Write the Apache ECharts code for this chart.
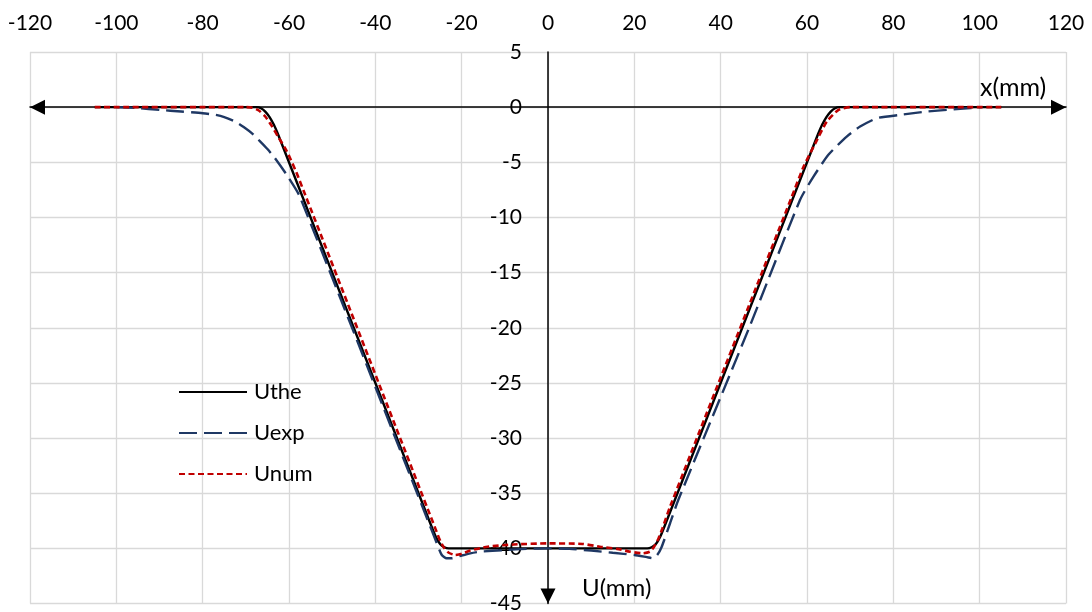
<!DOCTYPE html>
<html><head><meta charset="utf-8">
<script src="https://cdn.jsdelivr.net/npm/echarts@6/dist/echarts.min.js"></script>
<style>html,body{margin:0;padding:0;background:#fff}#c{width:1092px;height:612px}</style>
</head><body><div id="c"></div>
<script>
// ---- data ----
const xMin = -120, xMax = 120, xStep = 20;
const yMin = -45, yMax = 5, yStep = 5;
const seriesNames = ['Uthe', 'Uexp', 'Unum'];
const uthe = [[-105,0],[-67.5,0],[-66.5,-0.1],[-65.5,-0.4],[-64.5,-0.9],[-63.5,-1.6],[-62.5,-2.5],[-61,-4],[-27,-38],[-26,-38.95],[-25,-39.6],[-24,-39.9],[-23,-40],[23,-40],[24,-39.9],[25,-39.6],[26,-38.95],[27,-38],[61,-4],[62.5,-2.5],[63.5,-1.6],[64.5,-0.9],[65.5,-0.4],[66.5,-0.1],[67.5,0],[105,0]];
const uexp = [[-100,0],[-95,-0.08],[-90,-0.25],[-85,-0.4],[-80,-0.55],[-77,-0.7],[-75,-0.9],[-72.5,-1.3],[-70.5,-1.8],[-68.5,-2.4],[-66.7,-3.1],[-65,-3.8],[-63.3,-4.6],[-60.6,-6.1],[-57.5,-8.1],[-27,-38.3],[-25.5,-39.8],[-24.6,-40.6],[-23.5,-40.9],[-22.3,-40.9],[-20,-40.65],[-18,-40.45],[-15.8,-40.3],[-10,-40.15],[-5,-40.05],[0,-40],[5,-40.05],[10,-40.2],[15,-40.4],[20,-40.6],[22.9,-40.8],[24.3,-40.9],[25.3,-40.6],[26.3,-39.9],[28.3,-37.7],[30.2,-35.6],[46.6,-20],[58.4,-8.4],[61.5,-6.3],[65,-4.3],[69.2,-2.67],[72.3,-1.76],[76.2,-1.0],[81.6,-0.7],[87.8,-0.4],[95.5,-0.15],[100.5,0]];
const unum = [[-105,0],[-70,0],[-68.5,-0.05],[-67,-0.3],[-65.5,-0.85],[-64,-1.7],[-62.5,-2.7],[-60.5,-4.0],[-58,-6.2],[-26,-38.3],[-25,-39.3],[-24,-40.0],[-23,-40.4],[-21.5,-40.6],[-20,-40.5],[-18,-40.2],[-14,-39.85],[-8,-39.65],[0,-39.55],[8,-39.6],[12,-39.85],[16,-40.05],[19,-40.3],[22,-40.45],[23.6,-40.3],[24.5,-39.9],[25.6,-39.1],[26.5,-38.2],[28.3,-36.2],[56.5,-8.1],[59.2,-5.4],[61.9,-3.3],[64.6,-1.3],[67.3,-0.25],[70,0],[105,0]];
const xAxisTitle = 'x(mm)';
const yAxisTitle = 'U(mm)';

const FONT = 'Lato';
const chart = echarts.init(document.getElementById('c'), null, {renderer: 'canvas'});
const arrowSize = [15, 15];
const gridLeft = 30, gridRight = 26;
const plotW = 1092 - gridLeft - gridRight;
const zeroOffset = -plotW * (0 - xMin) / (xMax - xMin);
chart.setOption({
  animation: false,
  backgroundColor: '#fff',
  grid: {left: gridLeft, right: gridRight, top: 52, bottom: 8.5, containLabel: false, outerBoundsMode: 'none'},
  legend: {
    orient: 'vertical', left: 178, top: 381, padding: 0, itemWidth: 68, itemHeight: 14, itemGap: 19,
    itemStyle: {opacity: 0},
    textStyle: {fontFamily: FONT, fontSize: 22, color: '#000', padding: [0,0,0,2]},
    data: seriesNames
  },
  xAxis: [{
    type: 'value', position: 'top', min: xMin, max: xMax, interval: xStep,
    axisLine: {show: false, onZero: false}, axisTick: {show: false},
    axisLabel: {fontFamily: FONT, fontSize: 21, color: '#000', margin: 18},
    splitLine: {show: true, lineStyle: {color: '#d9d9d9', width: 1.3}}
  }, {
    type: 'value', position: 'bottom', min: xMin, max: xMax, interval: xStep,
    axisLine: {show: true, onZero: true, onZeroAxisIndex: 0, symbol: ['triangle', 'triangle'], symbolSize: arrowSize, symbolOffset: [7.5, -7.5], lineStyle: {color: '#000', width: 1.5}},
    axisTick: {show: false}, axisLabel: {show: false}, splitLine: {show: false}
  }],
  yAxis: {
    type: 'value', position: 'left', offset: zeroOffset, min: yMin, max: yMax, interval: yStep,
    axisLine: {show: true, onZero: false, symbol: ['triangle', 'none'], symbolSize: arrowSize, symbolOffset: [7.5, 0], lineStyle: {color: '#000', width: 1.5}},
    axisTick: {show: false},
    axisLabel: {fontFamily: FONT, fontSize: 21, color: '#000', margin: 26},
    splitLine: {show: true, lineStyle: {color: '#d9d9d9', width: 1.3}}
  },
  graphic: [
    {type: 'text', x: 980, y: 88, z: 100, style: {text: xAxisTitle, fontFamily: FONT, fontSize: 25, fill: '#000', verticalAlign: 'middle'}},
    {type: 'text', x: 582, y: 588, z: 100, style: {text: yAxisTitle, fontFamily: FONT, fontSize: 24, fill: '#000', verticalAlign: 'middle'}}
  ],
  series: [
    {name: seriesNames[0], type: 'line', data: uthe, showSymbol: false, symbol: 'none', smooth: 0.2, z: 3,
     lineStyle: {color: '#000', width: 2.4, type: 'solid'}, itemStyle: {color: '#000'}},
    {name: seriesNames[1], type: 'line', data: uexp, showSymbol: false, symbol: 'none', smooth: 0.2, z: 4,
     lineStyle: {color: '#1f3864', width: 2.4, type: [18, 7]}, itemStyle: {color: '#1f3864'}},
    {name: seriesNames[2], type: 'line', data: unum, showSymbol: false, symbol: 'none', smooth: 0.2, z: 5,
     lineStyle: {color: '#c00000', width: 2.6, type: [6, 3.5]}, itemStyle: {color: '#c00000'}}
  ]
});
</script></body></html>
